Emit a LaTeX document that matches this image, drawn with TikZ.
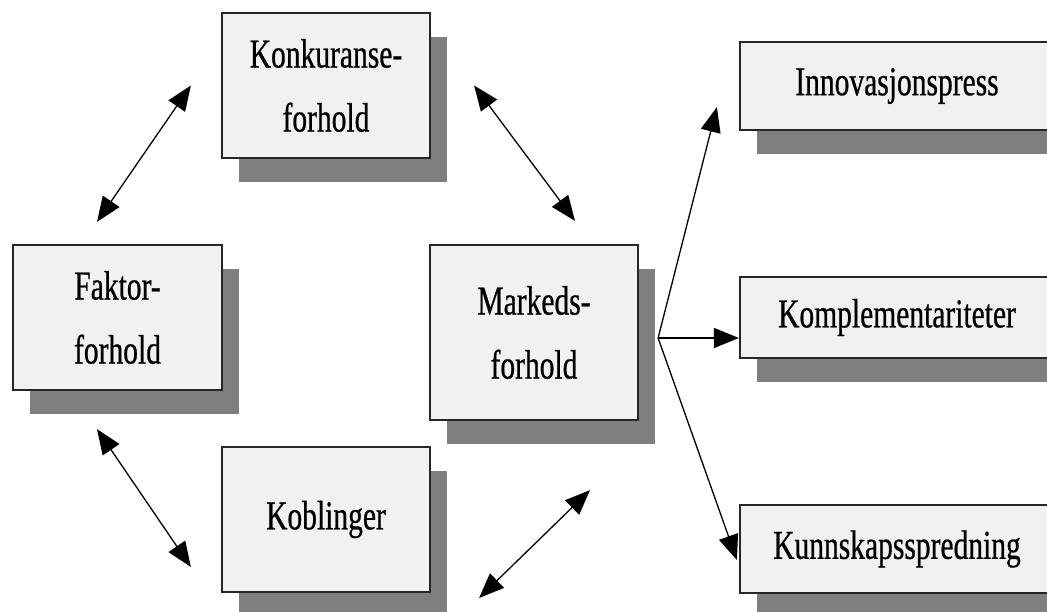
\documentclass[tikz,border=0pt]{standalone}
\usepackage{fontspec}
\setmainfont{Liberation Serif}[FakeStretch=0.72,UprightFeatures={FakeBold=0.6}]
\usetikzlibrary{arrows.meta,shadows}
\definecolor{boxgray}{HTML}{F1F1F1}
\definecolor{shadowgray}{HTML}{7F7F7F}

\begin{document}
\begin{tikzpicture}[x=1pt,y=-1pt,
    box/.style={draw=black!85,line width=2.2pt,fill=boxgray,inner sep=0pt,
        align=center,font=\fontsize{41}{64}\selectfont,
        drop shadow={shadow xshift=17pt,shadow yshift=-24pt,fill=shadowgray,opacity=1}},
    twoway/.style={line width=1.3pt,{Triangle[length=25pt,width=20pt]}-{Triangle[length=25pt,width=20pt]}},
    oneway/.style={line width=1.3pt,-{Triangle[length=25pt,width=20pt]}}]
    \useasboundingbox (0,0) rectangle (1047,612);
    \clip (0,0) rectangle (1047,612);
    % the diamond
    \node[box,minimum width=208pt,minimum height=145pt] (konk) at (326,85.5) {Konkuranse-\\forhold};
    \node[box,minimum width=209pt,minimum height=145pt] (faktor) at (117.5,317.5) {Faktor-\\forhold};
    \node[box,minimum width=208pt,minimum height=175pt] (marked) at (534,332.5) {Markeds-\\forhold};
    \node[box,minimum width=208pt,minimum height=145pt] (kobl) at (326,519.5) {Koblinger};
    % the effects
    \node[box,minimum width=314pt,minimum height=88pt] (innov) at (897,86) {Innovasjonspress};
    \node[box,minimum width=314pt,minimum height=81pt] (kompl) at (897,317.5) {Komplementariteter};
    \node[box,minimum width=314pt,minimum height=88pt] (kunn) at (897,549) {Kunnskapsspredning};

    \draw[twoway] ([xshift=-20.5pt,yshift=22pt]faktor.north) -- ([xshift=-30pt]konk.west);
    \draw[twoway] ([xshift=43pt]konk.east) -- ([xshift=41pt,yshift=23pt]marked.north);
    \draw[twoway] ([xshift=-20.5pt,yshift=-38pt]faktor.south) -- ([xshift=-30pt,yshift=-47.5pt]kobl.west);
    \draw[twoway] ([xshift=48pt,yshift=-78.5pt]kobl.east) -- ([xshift=56pt,yshift=-69pt]marked.south);

    \coordinate (fork) at ([xshift=19pt,yshift=-5.5pt]marked.east);
    \draw[oneway] (fork) -- ([xshift=-22pt,yshift=-21pt]innov.west);
    \draw[oneway] (fork) -- ([yshift=-20.5pt]kompl.west);
    \draw[oneway] (fork) -- ([xshift=-2pt,yshift=-11pt]kunn.west);
\end{tikzpicture}
\end{document}
